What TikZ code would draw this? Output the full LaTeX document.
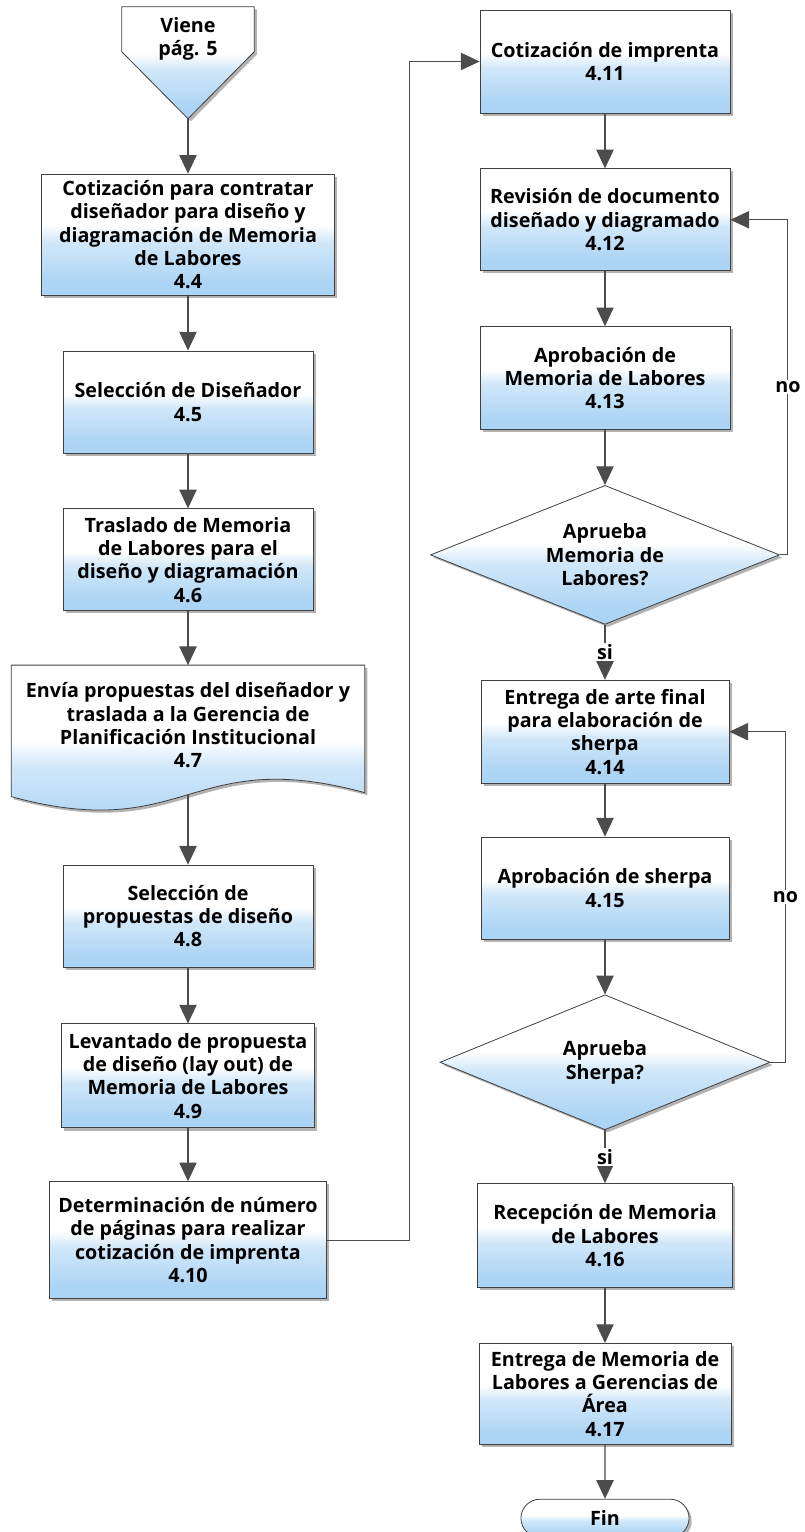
\documentclass[tikz,border=0pt]{standalone}
\usepackage{fontspec}
\setmainfont{Open Sans}
\usetikzlibrary{shapes.geometric, shapes.misc, arrows.meta, positioning, calc, shadows, backgrounds}

\definecolor{fillblue}{RGB}{172,212,244}
\pgfdeclareverticalshading{boxfill}{100bp}{color(0bp)=(fillblue!85); color(12bp)=(fillblue); color(30bp)=(fillblue); color(47bp)=(fillblue!55); color(54bp)=(white); color(100bp)=(white)}

\begin{document}
\begin{tikzpicture}[
        x=0.75pt, y=0.75pt,
        node distance=41.25pt,
        font=\bfseries\fontsize{14.8}{17.5}\selectfont,
        process/.style={rectangle, draw=black!75, line width=0.6pt, shade, shading=boxfill, drop shadow={shadow xshift=2pt, shadow yshift=-2pt, opacity=0.6}, align=center, minimum width=187.5pt, minimum height=76.5pt, inner sep=2pt},
        decision/.style={diamond, draw=black!75, line width=0.6pt, shade, shading=boxfill, drop shadow={shadow xshift=2pt, shadow yshift=-2pt, opacity=0.6}, align=center, shape aspect=2.5, inner sep=0pt},
        terminal/.style={rounded rectangle, draw=black!75, line width=0.6pt, shade, shading=boxfill, drop shadow={shadow xshift=2pt, shadow yshift=-2pt, opacity=0.6}, minimum width=132.75pt, minimum height=28.5pt},
        outline/.style={draw=black!75, line width=0.6pt, shade, shading=boxfill, drop shadow={shadow xshift=2pt, shadow yshift=-2pt, opacity=0.6}},
        arrow/.style={-{Triangle[width=13pt,length=14pt]}, line width=0.8pt, draw=black!70},
        answer/.style={fill=white, inner sep=1pt}
    ]
    \useasboundingbox (0,0) rectangle (804,1532);

    % Left column
    \node[align=center, minimum width=99pt, minimum height=48pt, inner sep=0pt] (viene) at (188,1493) {Viene\\pág. 5};
    \begin{scope}[on background layer]
        \path[outline] (viene.north west) -- (viene.north east) -- ++(0,-45)
            -- ($(viene.north)+(0,-112)$) coordinate (vtip) -- ($(viene.north west)+(0,-45)$) -- cycle;
    \end{scope}

    \node[process, minimum width=219.75pt, minimum height=90.75pt] (c44) [below=of vtip] {Cotización para contratar\\diseñador para diseño y\\diagramación de Memoria\\de Labores\\4.4};
    \node[process] (c45) [below=of c44] {Selección de Diseñador\\4.5};
    \node[process] (c46) [below=of c45] {Traslado de Memoria\\de Labores para el\\diseño y diagramación\\4.6};
    \node[align=center, minimum width=264.75pt, minimum height=90pt, inner sep=0pt] (c47) [below=40.5pt of c46] {Envía propuestas del diseñador y\\traslada a la Gerencia de\\Planificación Institucional\\4.7};
    \begin{scope}[on background layer]
        \path[outline] (c47.north west) -- (c47.north east) -- ($(c47.south east)+(0,-7)$)
            .. controls +(-176.5,48) and +(176.5,-48) .. ($(c47.south west)+(0,-11)$) -- cycle;
    \end{scope}
    \coordinate (c47wave) at ($(c47.south)+(0,-9)$);
    \node[process] (c48) [below=59.25pt of c47] {Selección de\\propuestas de diseño\\4.8};
    \node[process, minimum width=189.75pt, minimum height=78pt] (c49) [below=42pt of c48] {Levantado de propuesta\\de diseño (lay out) de\\Memoria de Labores\\4.9};
    \node[process, minimum width=207.75pt, minimum height=87.75pt] (c410) [below=39.75pt of c49] {Determinación de número\\de páginas para realizar\\cotización de imprenta\\4.10};

    % Right column
    \node[process, minimum height=77.25pt] (c411) at (605,1470.5) {Cotización de imprenta\\4.11};
    \node[process] (c412) [below=of c411] {Revisión de documento\\diseñado y diagramado\\4.12};
    \node[process, minimum height=77.25pt] (c413) [below=of c412] {Aprobación de\\Memoria de Labores\\4.13};
    \node[decision, minimum width=261.75pt, minimum height=104.25pt] (d1) [below=of c413] {Aprueba\\Memoria de\\Labores?};
    \node[process, minimum width=186pt, minimum height=77.25pt] (c414) [below=of d1] {Entrega de arte final\\para elaboración de\\sherpa\\4.14};
    \node[process, minimum width=186pt] (c415) [below=39.75pt of c414] {Aprobación de sherpa\\4.15};
    \node[decision, minimum width=247.5pt, minimum height=101.25pt] (d2) [below=of c415] {Aprueba\\Sherpa?};
    \node[process, minimum width=191.25pt, minimum height=78pt] (c416) [below=39.75pt of d2] {Recepción de Memoria\\de Labores\\4.16};
    \node[process, minimum width=189pt, minimum height=75.75pt] (c417) [below=of c416] {Entrega de Memoria de\\Labores a Gerencias de\\Área\\4.17};
    \node[terminal] (fin) [below=40.5pt of c417] {Fin};

    % Connections
    \draw[arrow] (vtip) -- (c44);
    \draw[arrow] (c44) -- (c45);
    \draw[arrow] (c45) -- (c46);
    \draw[arrow] (c46) -- (c47);
    \draw[arrow] (c47wave) -- (c48);
    \draw[arrow] (c48) -- (c49);
    \draw[arrow] (c49) -- (c410);
    \draw[arrow] (c410.east) -- ++(83,0) |- (c411.west);

    \draw[arrow] (c411) -- (c412);
    \draw[arrow] (c412) -- (c413);
    \draw[arrow] (c413) -- (d1);
    \draw[arrow] (d1) -- node[answer] {si} (c414);
    \draw[arrow] (d1.east) -- ++(8,0) |- node[answer, pos=0.25] {no} (c412.east);
    \draw[arrow] (c414) -- (c415);
    \draw[arrow] (c415) -- (d2);
    \draw[arrow] (d2) -- node[answer] {si} (c416);
    \draw[arrow] (d2.east) -- ++(15,0) |- node[answer, pos=0.25] {no} (c414.east);
    \draw[arrow] (c416) -- (c417);
    \draw[arrow] (c417) -- (fin);

\end{tikzpicture}
\end{document}
